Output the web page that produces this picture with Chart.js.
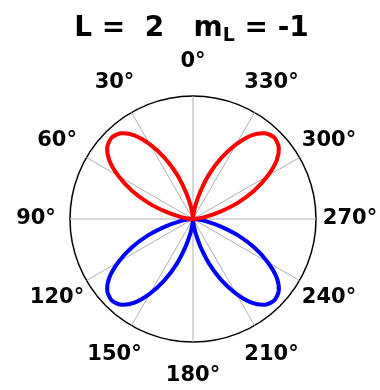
<!DOCTYPE html>
<html>
<head>
<meta charset="utf-8">
<script src="https://cdn.jsdelivr.net/npm/chart.js@4.4.1/dist/chart.umd.min.js"></script>
<style>
	html, body { margin: 0; padding: 0; background: #ffffff; }
	#wrap { width: 380px; height: 390px; }
</style>
</head>
<body>
<div id="wrap"><canvas id="chart" width="380" height="390"></canvas></div>
<script>
'use strict';

// polar angle in degrees, counter-clockwise from the top
const angles = [
	0, 5, 10, 15, 20, 25, 30, 35, 40, 45, 50, 55, 60, 65, 70, 75, 80, 85,
	90, 95, 100, 105, 110, 115, 120, 125, 130, 135, 140, 145, 150, 155, 160, 165, 170, 175,
	180, 185, 190, 195, 200, 205, 210, 215, 220, 225, 230, 235, 240, 245, 250, 255, 260, 265,
	270, 275, 280, 285, 290, 295, 300, 305, 310, 315, 320, 325, 330, 335, 340, 345, 350, 355
];

// positive lobes (red)
const redR = [
	0, .03, .11, .23, .39, .55, .70, .83, .91, .935, .91, .83, .70, .55, .39, .23, .11, .03,
	0, 0, 0, 0, 0, 0, 0, 0, 0, 0, 0, 0, 0, 0, 0, 0, 0, 0,
	0, 0, 0, 0, 0, 0, 0, 0, 0, 0, 0, 0, 0, 0, 0, 0, 0, 0,
	0, .03, .11, .23, .39, .55, .70, .83, .91, .935, .91, .83, .70, .55, .39, .23, .11, .03
];

// negative lobes (blue)
const blueR = [
	0, 0, 0, 0, 0, 0, 0, 0, 0, 0, 0, 0, 0, 0, 0, 0, 0, 0,
	0, .03, .11, .23, .39, .55, .70, .83, .91, .935, .91, .83, .70, .55, .39, .23, .11, .03,
	0, .03, .11, .23, .39, .55, .70, .83, .91, .935, .91, .83, .70, .55, .39, .23, .11, .03,
	0, 0, 0, 0, 0, 0, 0, 0, 0, 0, 0, 0, 0, 0, 0, 0, 0, 0
];

const tickAngles = [ 0, 30, 60, 90, 120, 150, 180, 210, 240, 270, 300, 330 ];

const FONT = '"DejaVu Sans", "Liberation Sans", sans-serif';

/**
 * Radar goes clockwise, the reference goes the other way,
 * so walk the arrays backwards after the first entry
 */
function clockwise( arr ) {
	return [ arr[0] ].concat( arr.slice( 1 ).reverse() );
}

const labels = clockwise( angles );

/**
 * Theta labels and the title (the title has a subscript)
 */
const polarText = {
	id: 'polarText',
	afterDraw: function( chart ) {
		let ctx = chart.ctx;
		let scale = chart.scales.r;

		ctx.save();
		ctx.fillStyle = '#000000';
		ctx.textAlign = 'center';
		ctx.textBaseline = 'middle';
		ctx.font = 'bold 21px ' + FONT;
		labels.forEach( function( deg, i ) {
			if ( tickAngles.indexOf( deg ) === -1 ) {
				return;
			}
			let pos = scale.getPointPosition( i, scale.drawingArea + 34 );
			ctx.fillText( deg + '°', pos.x, pos.y );
		} );

		// title
		let big = 'bold 28px ' + FONT;
		let small = 'bold 19px ' + FONT;
		let partA = 'L =  2   m';
		let partB = 'L';
		let partC = ' = -1';
		ctx.textAlign = 'left';
		ctx.textBaseline = 'alphabetic';
		ctx.font = big;
		let wA = ctx.measureText( partA ).width;
		let wC = ctx.measureText( partC ).width;
		ctx.font = small;
		let wB = ctx.measureText( partB ).width;
		let x = 191.5 - ( wA + wB + wC ) / 2;
		let y = 36;
		ctx.font = big;
		ctx.fillText( partA, x, y );
		ctx.font = small;
		ctx.fillText( partB, x + wA, y + 5 );
		ctx.font = big;
		ctx.fillText( partC, x + wA + wB, y );
		ctx.restore();
	}
};

new Chart( document.getElementById( 'chart' ), {
	type: 'radar',
	data: {
		labels: labels,
		datasets: [ {
			data: clockwise( redR ),
			borderColor: '#ff0000',
			borderWidth: 4,
			fill: false,
			pointRadius: 0,
			tension: 0.25
		}, {
			data: clockwise( blueR ),
			borderColor: '#0000ff',
			borderWidth: 4,
			fill: false,
			pointRadius: 0,
			tension: 0.25
		} ]
	},
	options: {
		responsive: false,
		animation: false,
		events: [],
		layout: {
			padding: { left: 70, right: 64, top: 96, bottom: 48 }
		},
		plugins: {
			legend: { display: false },
			tooltip: { enabled: false },
			title: { display: false }
		},
		scales: {
			r: {
				min: 0,
				max: 1,
				ticks: { display: false, stepSize: 1 },
				pointLabels: { display: false },
				grid: {
					circular: true,
					color: '#000000',
					lineWidth: 1.5
				},
				angleLines: {
					display: true,
					lineWidth: 1,
					color: function( context ) {
						return tickAngles.indexOf( labels[ context.index ] ) !== -1 ? '#b0b0b0' : 'rgba(0,0,0,0)';
					}
				}
			}
		}
	},
	plugins: [ polarText ]
} );
</script>
</body>
</html>
